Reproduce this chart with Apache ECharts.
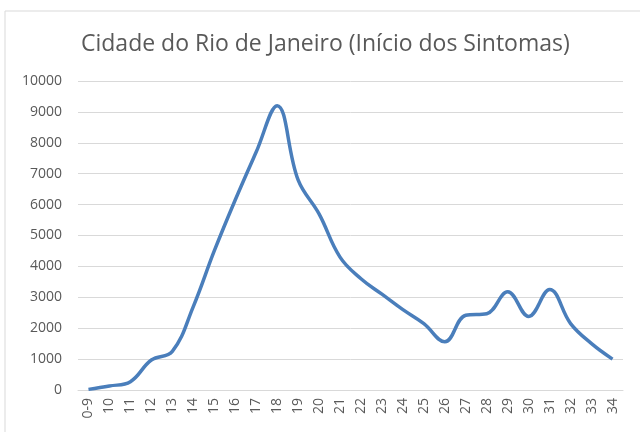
<!DOCTYPE html>
<html>
<head>
<meta charset="utf-8">
<script src="https://cdn.jsdelivr.net/npm/echarts@6/dist/echarts.min.js"></script>
<style>
  html, body { margin: 0; padding: 0; background: #fff; }
  #main { width: 640px; height: 432px; }
</style>
</head>
<body>
<div id="main"></div>
<script>
var semanas = ['0-9', '10', '11', '12', '13', '14', '15', '16', '17', '18', '19', '20', '21',
  '22', '23', '24', '25', '26', '27', '28', '29', '30', '31', '32', '33', '34'];
var casos = [20, 130, 270, 970, 1250, 2700, 4500, 6150, 7700, 9200, 6800, 5700, 4300,
  3600, 3100, 2600, 2150, 1560, 2420, 2470, 3180, 2380, 3250, 2150, 1500, 1000];
var yTicks = [0, 10000, 1000];

var myChart = echarts.init(document.getElementById('main'));
var option = {
  backgroundColor: '#fff',
  animation: false,
  title: {
    text: 'Cidade do Rio de Janeiro (Início dos Sintomas)',
    left: 76,
    top: 28,
    textStyle: {
      fontFamily: 'Open Sans',
      fontWeight: 'normal',
      fontSize: 23,
      color: '#595959'
    }
  },
  graphic: [{
    type: 'rect',
    shape: { x: 5, y: 11, width: 700, height: 500 },
    style: { fill: 'none', stroke: '#d9d9d9', lineWidth: 1 },
    silent: true
  }],
  grid: { left: 78, right: 17, top: 81, bottom: 42 },
  xAxis: {
    type: 'category',
    data: semanas,
    boundaryGap: true,
    axisLine: { lineStyle: { color: '#d9d9d9' } },
    axisTick: { show: false },
    axisLabel: {
      rotate: 90,
      interval: 0,
      color: '#595959',
      fontSize: 14,
      fontFamily: 'Open Sans',
      margin: 8
    }
  },
  yAxis: {
    type: 'value',
    min: yTicks[0],
    max: yTicks[1],
    interval: yTicks[2],
    axisLine: { show: false },
    axisTick: { show: false },
    splitLine: { lineStyle: { color: '#d9d9d9', width: 1 } },
    axisLabel: {
      color: '#595959',
      fontSize: 14,
      fontFamily: 'Open Sans',
      margin: 16,
      formatter: function (v) { return String(v); }
    }
  },
  series: [{
    type: 'line',
    data: casos,
    smooth: 0.4,
    symbol: 'none',
    lineStyle: { color: '#4a7ebb', width: 3.5 }
  }]
};
myChart.setOption(option);
</script>
</body>
</html>
